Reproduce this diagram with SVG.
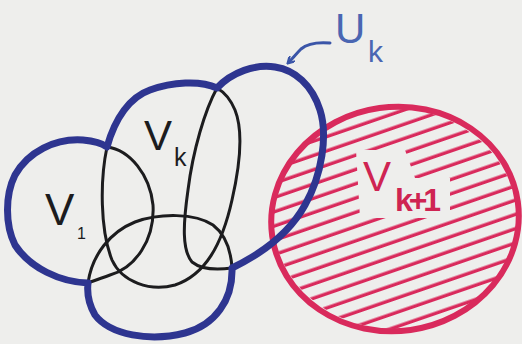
<svg xmlns="http://www.w3.org/2000/svg" width="522" height="344" viewBox="0 0 522 344">
<style>
.blue{fill:none;stroke:#2e3590;stroke-width:7;stroke-linejoin:round;stroke-linecap:round}
.blk{fill:none;stroke:#1c1c1e;stroke-width:3;stroke-linecap:round}
.red{fill:none;stroke:#d92a5c;stroke-width:6}
.lbl{font-family:"Liberation Sans",Arial,sans-serif;fill:#1c1c1e}
.rlbl{font-family:"Liberation Sans",Arial,sans-serif;fill:#cf2452}
.ulbl{font-family:"Liberation Sans",Arial,sans-serif;fill:#4a66b2}
</style>
<defs>
<pattern id="hatch" width="40" height="13.5" patternUnits="userSpaceOnUse" patternTransform="rotate(-19)">
<line x1="0" y1="6" x2="40" y2="6" stroke="#d92a5c" stroke-width="3.2"/>
</pattern>
<mask id="hm">
<ellipse cx="395" cy="219" rx="122" ry="110" fill="#fff"/>
<polygon points="356,150 405,150 415,178 450,178 450,218 360,218" fill="#000"/>
</mask>
<marker id="ah" markerWidth="8" markerHeight="8" refX="5" refY="4" orient="auto" markerUnits="userSpaceOnUse">
<path d="M0,0 L7,4 L0,8" fill="none" stroke="#3a55a8" stroke-width="2.2"/>
</marker>
</defs>
<rect width="522" height="344" fill="#eeeeec"/>
<g id="red-set">
<rect x="270" y="105" width="252" height="230" fill="url(#hatch)" mask="url(#hm)"/>
<ellipse class="red" cx="395" cy="219" rx="124" ry="112" transform="rotate(-8 395 219)"/>
<text class="rlbl" x="363" y="191" font-size="42">V</text>
<text class="rlbl" x="395" y="211" font-size="32" font-weight="bold" textLength="46">k+1</text>
</g>
<g id="sets">
<path class="blk" d="M107,147 C100,180 100,230 112,260 C122,282 150,292 175,285 C205,275 222,245 232,200 C240,165 243,130 235,110 C230,98 224,92 217,88"/>
<path class="blk" d="M107,147 C130,150 150,175 153,205 C155,240 135,268 110,275 C102,278 95,280 88,283"/>
<path class="blk" d="M217,88 C205,110 193,150 188,190 C183,225 182,250 192,262 C202,270 218,270 232,268"/>
<path class="blk" d="M88,283 C92,255 110,232 135,222 C160,213 195,213 213,225 C226,235 231,252 232,268"/>
<text class="lbl" x="144" y="150" font-size="42">V</text>
<text class="lbl" x="174" y="166" font-size="25">k</text>
<text class="lbl" x="45" y="225" font-size="44">V</text>
<text class="lbl" x="77" y="239" font-size="16">1</text>
</g>
<g id="U-k">
<path class="blue" d="M107,147 C115,118 130,97 150,90 C172,82 200,80 217,88 C232,72 255,64 275,67 C295,70 312,85 320,110 C328,135 322,175 305,205 C290,232 265,252 232,268 C233,300 215,325 185,333 C150,342 110,335 95,315 C88,303 87,292 88,283 C60,282 30,268 15,245 C5,225 5,195 15,175 C28,152 55,138 83,140 C95,141 103,144 107,147 Z"/>
<text class="ulbl" x="335" y="43" font-size="42">U</text>
<text class="ulbl" x="368" y="62" font-size="30">k</text>
</g>
<g id="connectors">
<path d="M330,43 C318,42 308,43 301,49 C296,54 293,58 289,62" fill="none" stroke="#3a55a8" stroke-width="3" stroke-linecap="round" marker-end="url(#ah)"/>
</g>
</svg>
